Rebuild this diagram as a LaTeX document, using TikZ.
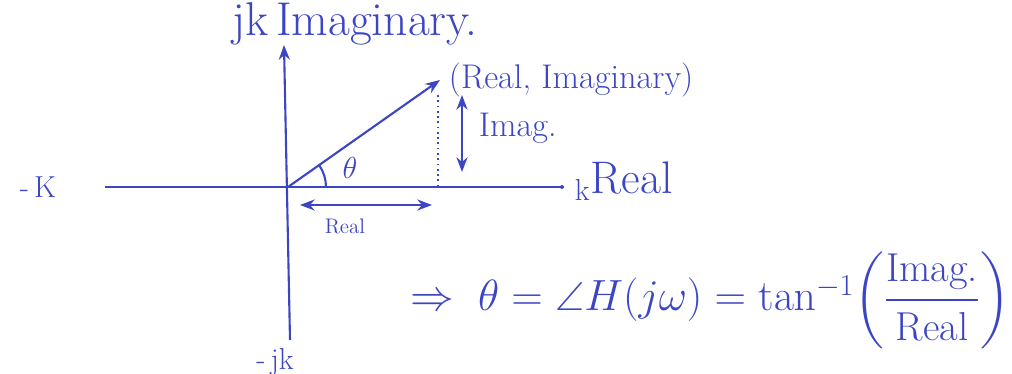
\documentclass[tikz,border=0pt]{standalone}
\usepackage{amsmath,amssymb}
\usepackage{tikz}
\usetikzlibrary{positioning,arrows.meta,calc}
\definecolor{ink}{RGB}{60,70,195}

\begin{document}
\begin{tikzpicture}[x=0.02cm,y=-0.02cm,line width=1.2pt,ink]
  \useasboundingbox (0,0) rectangle (1012,374);
  % origin, axis ends, phasor tip
  \coordinate (O) at (288,187);
  \coordinate (ytop) at (284,45);
  \coordinate (ybot) at (290,340);
  \coordinate (xleft) at (105,187);
  \coordinate (xright) at (562,187);
  \coordinate (P) at (440,80);
  \coordinate (Ptop) at (438,95);
  \coordinate (Pfoot) at (438,187);
  % axes
  \draw[->,>=Stealth] (ybot) -- (ytop);
  \draw[line width=0.9pt] (xleft) -- (xright);
  \fill (xright) circle (2);
  \node[font=\fontsize{27}{30}\selectfont] (imlab) at (355,24) {jk\,Imaginary.};
  \node[font=\LARGE] (relneg) at (38,187) {-\,K};
  \node[font=\fontsize{26}{30}\selectfont,anchor=west] (relab) at ($(xright)+(6,-6)$) {$_{\mathrm{k}}$Real};
  \node[font=\LARGE] (imneg) at (275,362) {-\,jk};
  % phasor and its parts
  \draw[->,>=Stealth] (O) -- (P);
  \node[font=\fontsize{19.5}{23}\selectfont,anchor=west] (ptlab) at ($(P)+(2,0)$) {(Real, Imaginary)};
  \draw[dotted,line width=1pt] (Ptop) -- (Pfoot);
  \coordinate (ia) at (462,95);
  \coordinate (ib) at (462,172);
  \draw[<->,>=Stealth] (ia) -- (ib);
  \node[font=\fontsize{19.5}{23}\selectfont,anchor=west] (imaglab) at (472,128) {Imag.};
  \coordinate (ra) at (300,205);
  \coordinate (rb) at (432,205);
  \draw[<->,>=Stealth] (ra) -- (rb);
  \node[font=\large] (reallab) at (345,226) {Real};
  % angle
  \draw ($(O)+(38,0)$) arc[start angle=0,end angle=-35,radius=38];
  \node[font=\LARGE] (thlab) at (350,168) {$\theta$};
  % result
  \node[font=\fontsize{23}{27}\selectfont] (eqn) at (710,300)
    {$\Rightarrow\ \theta = \angle H(j\omega) = \tan^{-1}\!\left(\dfrac{\text{Imag.}}{\text{Real}}\right)$};
\end{tikzpicture}
\end{document}
